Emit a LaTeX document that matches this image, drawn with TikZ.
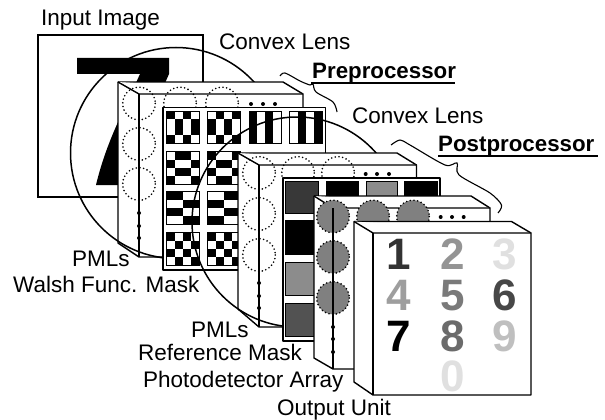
\documentclass[tikz,border=0pt]{standalone}
\usepackage{fontspec}
\setmainfont{Liberation Sans}
\usepackage{tikz}

% one square of a Walsh mask: corner x, corner y, column signs, row signs
\newcommand{\walshcell}[4]{%
  \fill[white] (#1,#2) rectangle ++(32.5,32.5);
  \foreach \a [count=\i from 0] in {#3} {
    \foreach \b [count=\j from 0] in {#4} {
      \pgfmathtruncatemacro{\odd}{mod(\a+\b,2)}
      \ifnum\odd=0
        \fill[black] ({#1+\i*8.125},{#2+\j*8.125}) rectangle ++(8.125,8.125);
      \fi
    }
  }
  \draw[cellframe] (#1,#2) rectangle ++(32.5,32.5);
}

\tikzset{
  cellframe/.style={draw=black,line width=0.9pt},
  plate/.style={draw=black,fill=white,line width=1.4pt,line join=round},
  lens/.style={draw=black,line width=1.5pt},
  pml/.style={draw=black,line width=1.8pt,line cap=round,dash pattern=on 0pt off 3.7pt},
  cell/.style={draw=black,line width=1pt},
  tag/.style={anchor=base west,inner sep=0pt,font=\fontsize{22.5}{22.5}\selectfont},
  headtag/.style={anchor=base west,inner sep=0pt,font=\fontsize{22.3}{22.3}\selectfont\bfseries},
  digit/.style={inner sep=0pt,font=\fontsize{44}{44}\selectfont\bfseries}
}

\begin{document}
\begin{tikzpicture}[x=1pt,y=-1pt]
    \useasboundingbox (0,0) rectangle (605,420);

    % Input image with its seven
    \draw[line width=1.2pt] (38,35) rectangle (203,197);
    \fill[black] (77,58) -- (169,58) -- (169,74) -- (120,185) -- (96,185)
        .. controls (102,160) and (110,140) .. (118,122) -- (140,74) -- (77,74) -- cycle;

    % First lens and PML plate
    \draw[lens] (176,153) circle[radius=105.5];
    \draw[plate] (118,82) -- (283,82) -- (303,94) -- (303,257) -- (139,257) -- (118,243) -- cycle;
    \draw[plate] (118,82) -- (139,94) -- (303,94);
    \draw[line width=1.3pt] (139,94) -- (139,257);
    \begin{scope}
        \clip (118,235) rectangle (163,262);
        \draw[lens] (176,153) circle[radius=105.5];
    \end{scope}
    \foreach \y in {103.5,144,184} \draw[pml] (139,\y) circle[radius=16.3];
    \foreach \x in {180,222} \draw[pml] (\x,103.5) circle[radius=16.3];
    \foreach \x in {251,263,275} \fill (\x,104) circle[radius=2];
    \foreach \y in {213,226,238} \fill (139,\y) circle[radius=2];

    % Walsh function mask
    \draw[plate] (163,107.5) rectangle (325.5,270);
    \walshcell{166.7}{111}{0,1,0,1}{0,1,1,0}
    \walshcell{207.7}{111}{1,0,1,0}{0,1,1,0}
    \walshcell{249}{111}{0,1,0,1}{0,0,0,0}
    \walshcell{289.7}{111}{1,0,1,0}{0,0,0,0}
    \walshcell{166.7}{151.5}{1,0,0,1}{0,1,0,1}
    \walshcell{207.7}{151.5}{0,1,1,0}{0,1,0,1}
    \walshcell{166.7}{191.7}{0,0,1,1}{0,1,0,1}
    \walshcell{207.7}{191.7}{1,1,0,0}{0,1,0,1}
    \walshcell{166.7}{232.5}{0,1,0,1}{0,1,0,1}
    \walshcell{207.7}{232.5}{0,1,0,1}{0,1,0,1}

    % Second lens and PML plate
    \draw[lens] (297,222) circle[radius=105];
    \draw[plate] (238,153) -- (397,153) -- (416.5,165) -- (416.5,327) -- (259,327) -- (238,309) -- cycle;
    \draw[plate] (238,153) -- (259,165) -- (416.5,165);
    \draw[line width=1.3pt] (259,165) -- (259,327);
    \begin{scope}
        \clip (238,300) rectangle (283,330);
        \draw[lens] (297,222) circle[radius=105];
    \end{scope}
    \foreach \y in {173,214,255} \draw[pml] (259,\y) circle[radius=16.3];
    \foreach \x in {298,338} \draw[pml] (\x,173) circle[radius=16.3];
    \foreach \x in {365.7,377,389} \fill (\x,174) circle[radius=2];
    \foreach \y in {283,296,308} \fill (259,\y) circle[radius=2];

    % Reference mask
    \draw[plate] (283,178) rectangle (440,341);
    \draw[cell,fill=black!78] (285.5,181) rectangle (318,213);
    \draw[cell,fill=black] (285.5,220.5) rectangle (318,254);
    \draw[cell,fill=black!45] (285.5,262) rectangle (318,295);
    \draw[cell,fill=black!68] (285.5,303) rectangle (318,336);
    \draw[cell,fill=black] (326,181) rectangle (358,213);
    \draw[cell,fill=black!45] (366,181) rectangle (397,213);
    \draw[cell,fill=black] (404.5,181) rectangle (437,213);

    % Photodetector array
    \draw[plate] (314,196) -- (471,196) -- (490,208) -- (490,369) -- (333,369) -- (314,358) -- cycle;
    \draw[plate] (314,196) -- (333,208) -- (490,208);
    \foreach \y in {216.5,257,298} \draw[pml,fill=black!50] (333,\y) circle[radius=16.3];
    \foreach \x in {373,413} \draw[pml,fill=black!50] (\x,216.5) circle[radius=16.3];
    \draw[line width=1.3pt] (333,208) -- (333,369);
    \foreach \x in {440.7,452,463.7} \fill (\x,217) circle[radius=2];
    \foreach \y in {327,339,352} \fill (333,\y) circle[radius=2];

    % Output unit
    \draw[plate] (354,221.5) -- (511.5,221.5) -- (531,233) -- (531,395) -- (373,395) -- (354,382) -- cycle;
    \draw[plate] (354,221.5) -- (373,233) -- (531,233);
    \draw[line width=1.4pt] (373,233) -- (373,395);

    % Digits on the output face
    \node[digit,text=black!80] (d1) at (399,254) {1};
    \node[digit,text=black!42] (d2) at (452.7,254) {2};
    \node[digit,text=black!12] (d3) at (505,254) {3};
    \node[digit,text=black!38] (d4) at (399,295.5) {4};
    \node[digit,text=black!52] (d5) at (452.7,295.5) {5};
    \node[digit,text=black!72] (d6) at (505,295.5) {6};
    \node[digit,text=black] (d7) at (399,336) {7};
    \node[digit,text=black!58] (d8) at (452.7,336) {8};
    \node[digit,text=black!25] (d9) at (505,336) {9};
    \node[digit,text=black!12] (d0) at (452.7,376) {0};

    % Labels
    \node[tag] (inputlabel) at (41,26) {Input Image};
    \node[tag] (lensonelabel) at (219,50) {Convex Lens};
    \node[tag] (lenstwolabel) at (352,123) {Convex Lens};
    \node[headtag] (prelabel) at (312,78) {Preprocessor};
    \node[headtag] (postlabel) at (438,151) {Postprocessor};
    \node[tag] (pmlonelabel) at (72,266) {PMLs};
    \node[tag] (walshlabel) at (13,292) {Walsh Func. Mask};
    \node[tag] (pmltwolabel) at (191,337) {PMLs};
    \node[tag] (reflabel) at (138,360) {Reference Mask};
    \node[tag] (photolabel) at (143,387) {Photodetector Array};
    \node[tag] (outputlabel) at (277,415) {Output Unit};

    % Underlines and braces of the two stages
    \draw[line width=1.3pt] (311,83) -- (455,83);
    \draw[line width=1.3pt] (438,156) -- (598,156);
    \draw[line width=1.1pt] plot[smooth,tension=0.5] coordinates {(280,76) (285,73) (300,81) (310,85) (313,84) (316,92) (333,102) (337,112)};
    \draw[line width=1.1pt] plot[smooth,tension=0.5] coordinates {(391,145) (400,140) (410,145) (445,165) (457,163) (459,175) (490,193) (501.5,205) (498,213)};
\end{tikzpicture}
\end{document}
